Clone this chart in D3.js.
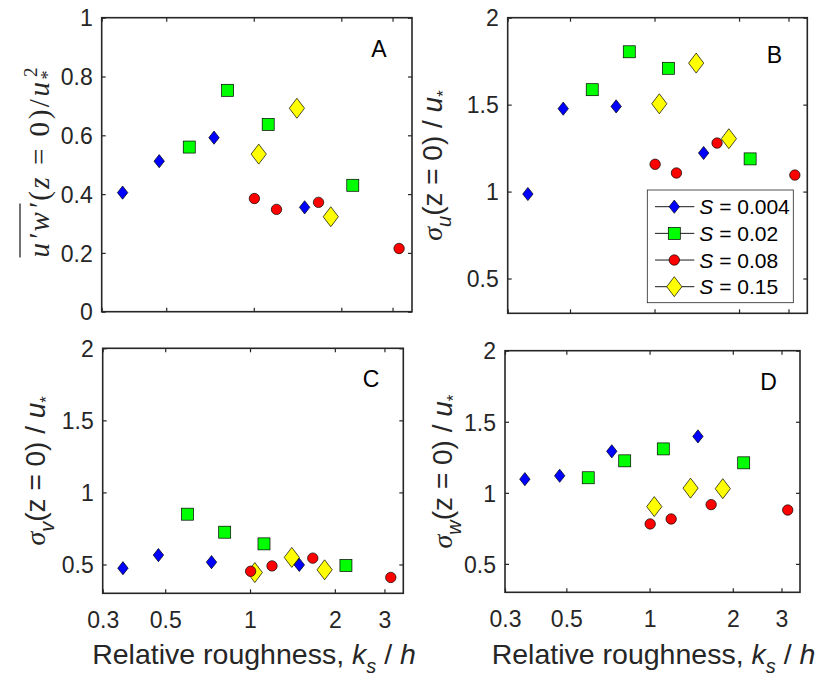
<!DOCTYPE html>
<html><head><meta charset="utf-8">
<script src="https://cdn.jsdelivr.net/npm/d3@7"></script>
<style>body{margin:0;background:#fff}svg{display:block}</style>
</head><body><svg id="chart" width="822" height="679"></svg>
<script>
// ---------- data ----------
const seriesNames = ["0.004", "0.02", "0.08", "0.15"];
const ksS004 = [0.354, 0.473, 0.730, 1.496];
const ksS02  = [0.600, 0.813, 1.121, 2.19];
const ksS08  = [1.005, 1.197, 1.67, 3.16];
const ksS15  = [1.04, 1.407, 1.84];

const uwS004 = [0.405, 0.512, 0.592, 0.355];
const uwS02  = [0.560, 0.753, 0.637, 0.430];
const uwS08  = [0.385, 0.348, 0.372, 0.215];
const uwS15  = [0.536, 0.692, 0.323];

const suS004 = [0.986, 1.477, 1.490, 1.222];
const suS02  = [1.586, 1.804, 1.709, 1.188];
const suS08  = [1.157, 1.107, 1.279, 1.095];
const suS15  = [1.505, 1.739, 1.304];

const svS004 = [0.474, 0.565, 0.516, 0.497];
const svS02  = [0.849, 0.724, 0.643, 0.493];
const svS08  = [0.453, 0.490, 0.544, 0.410];
const svS15  = [0.444, 0.549, 0.463];

const swS004 = [1.096, 1.120, 1.292, 1.397];
const swS02  = [1.106, 1.225, 1.309, 1.211];
const swS08  = [0.781, 0.816, 0.917, 0.879];
const swS15  = [0.903, 1.033, 1.029];

const xTicks = [0.3, 0.5, 1, 2, 3];
const xTickLabels = ["0.3", "0.5", "1", "2", "3"];
const yTicksA = [0, 0.2, 0.4, 0.6, 0.8, 1];
const yTickLabelsA = ["0", "0.2", "0.4", "0.6", "0.8", "1"];
const yTicksS = [0.5, 1, 1.5, 2];
const yTickLabelsS = ["0.5", "1", "1.5", "2"];

// ---------- style ----------
const INK = "#262626";
const styles = [
  {fill: "#0000ff", shape: "dsmall"},
  {fill: "#00ff00", shape: "square"},
  {fill: "#ff0000", shape: "circle"},
  {fill: "#ffff00", shape: "dbig"}
];
const drawOrder = [3, 0, 1, 2];

const svg = d3.select("#chart");
const TICKFONT = "Liberation Sans, Arial, sans-serif";

function marker(g, shape, fill, cx, cy) {
  if (shape === "circle") {
    g.append("circle").attr("cx", cx).attr("cy", cy).attr("r", 5.2)
      .attr("fill", fill).attr("stroke", "#000").attr("stroke-width", 0.7);
  } else if (shape === "square") {
    const s = 12;
    g.append("rect").attr("x", cx - s/2).attr("y", cy - s/2).attr("width", s).attr("height", s)
      .attr("fill", fill).attr("stroke", "#000").attr("stroke-width", 0.7);
  } else {
    const w = shape === "dbig" ? 7.6 : 5.2, h = shape === "dbig" ? 10 : 6.6;
    g.append("path").attr("d", `M${cx},${cy-h}L${cx+w},${cy}L${cx},${cy+h}L${cx-w},${cy}Z`)
      .attr("fill", fill).attr("stroke", "#000").attr("stroke-width", 0.7);
  }
}

function panel(opt) {
  const x = d3.scaleLog().domain([0.3, 3.5]).range([opt.x0, opt.x1]);
  const y = d3.scaleLinear().domain(opt.ydom).range([opt.y1, opt.y0]);
  const g = svg.append("g");
  const axB = d3.axisBottom(x).tickValues(xTicks).tickSizeInner(-4).tickSizeOuter(0)
    .tickFormat((d, i) => opt.xlabels ? xTickLabels[i] : "");
  const axT = d3.axisTop(x).tickValues(xTicks).tickSizeInner(-4).tickSizeOuter(0).tickFormat("");
  const axL = d3.axisLeft(y).tickValues(opt.yt).tickSizeInner(-4).tickSizeOuter(0)
    .tickFormat((d, i) => opt.ytl[i]);
  const axR = d3.axisRight(y).tickValues(opt.yt).tickSizeInner(-4).tickSizeOuter(0).tickFormat("");
  const gb = g.append("g").attr("transform", `translate(0,${opt.y1})`).call(axB);
  const gt = g.append("g").attr("transform", `translate(0,${opt.y0})`).call(axT);
  const gl = g.append("g").attr("transform", `translate(${opt.x0},0)`).call(axL);
  const gr = g.append("g").attr("transform", `translate(${opt.x1},0)`).call(axR);
  [gb, gt, gl, gr].forEach(a => {
    a.select(".domain").remove();
    a.selectAll(".tick line").attr("stroke", INK).attr("stroke-width", 1.2);
    a.selectAll("text").attr("fill", INK).style("font-family", TICKFONT).style("font-size", "23px");
  });
  gl.selectAll("text").attr("x", -9).attr("dy", "0.36em");
  gb.selectAll("text").attr("y", 0).attr("dy", 35);
  g.append("rect").attr("x", opt.x0).attr("y", opt.y0)
    .attr("width", opt.x1 - opt.x0).attr("height", opt.y1 - opt.y0)
    .attr("fill", "none").attr("stroke", INK).attr("stroke-width", 1.6);
  const mk = g.append("g");
  drawOrder.forEach(si => {
    const xs = opt.xs[si], ys = opt.ys[si];
    xs.forEach((v, i) => marker(mk, styles[si].shape, styles[si].fill, x(v), y(ys[i])));
  });
  g.append("text").attr("x", opt.lx).attr("y", opt.ly).attr("text-anchor", "middle")
    .attr("fill", "#000").style("font-family", TICKFONT).style("font-size", "23px").text(opt.letter);
  if (opt.xlabels) {
    const t = g.append("text").attr("x", (opt.x0 + opt.x1) / 2 + 1).attr("y", 664)
      .attr("text-anchor", "middle").attr("fill", INK)
      .style("font-family", TICKFONT).style("font-size", "28.5px");
    t.append("tspan").text("Relative roughness, ");
    t.append("tspan").style("font-style", "italic").text("k");
    t.append("tspan").style("font-style", "italic").style("font-size", "20px").attr("dy", 9).text("s");
    t.append("tspan").attr("dy", -9).text(" / ");
    t.append("tspan").style("font-style", "italic").text("h");
  }
  return {x, y, g};
}

const xsAll = [ksS004, ksS02, ksS08, ksS15];

panel({x0: 101.7, x1: 412, y0: 17.7, y1: 311.7, ydom: [0, 1], yt: yTicksA, ytl: yTickLabelsA,
  xs: xsAll, ys: [uwS004, uwS02, uwS08, uwS15], letter: "A", lx: 379, ly: 56.5, xlabels: false});
panel({x0: 507.7, x1: 807.3, y0: 17.7, y1: 313.3, ydom: [0.3, 2], yt: yTicksS, ytl: yTickLabelsS,
  xs: xsAll, ys: [suS004, suS02, suS08, suS15], letter: "B", lx: 774.5, ly: 62.5, xlabels: false});
panel({x0: 102.7, x1: 403.3, y0: 348.3, y1: 593.3, ydom: [0.3, 2], yt: yTicksS, ytl: yTickLabelsS,
  xs: xsAll, ys: [svS004, svS02, svS08, svS15], letter: "C", lx: 371, ly: 386.5, xlabels: true});
panel({x0: 505, x1: 800, y0: 350.7, y1: 592.3, ydom: [0.3, 2], yt: yTicksS, ytl: yTickLabelsS,
  xs: xsAll, ys: [swS004, swS02, swS08, swS15], letter: "D", lx: 768.5, ly: 390, xlabels: true});

// ---------- y labels ----------
function sigmaLabel(cx, cy, sub) {
  const g = svg.append("g").attr("transform", `translate(${cx},${cy}) rotate(-90)`);
  const t = g.append("text").attr("x", 0).attr("y", 0).attr("text-anchor", "middle").attr("fill", INK)
    .style("font-family", TICKFONT).style("font-size", "28px");
  t.append("tspan").style("font-family", "Liberation Serif, serif").style("font-style", "italic").text("σ");
  t.append("tspan").style("font-style", "italic").style("font-size", "20px").attr("dy", 9).text(sub);
  t.append("tspan").attr("dy", -9).text("(z = 0) / ");
  t.append("tspan").style("font-style", "italic").text("u");
  t.append("tspan").style("font-size", "17px").attr("dy", 7).text("*");
}
sigmaLabel(442, 165.5, "u");
sigmaLabel(45, 470.8, "v");
sigmaLabel(452, 471.5, "w");

// Panel A label (math style)
(function(){
  const g = svg.append("g").attr("transform", `translate(49,162.5) rotate(-90)`);
  const t = g.append("text").attr("x", 0).attr("y", 0).attr("text-anchor", "middle").attr("fill", INK)
    .attr("textLength", 190).attr("lengthAdjust", "spacing")
    .style("font-family", "Liberation Serif, serif").style("font-style", "italic").style("font-size", "29px");
  t.append("tspan").text("u′w′");
  t.append("tspan").style("font-style", "normal").text("(");
  t.append("tspan").text("z");
  t.append("tspan").style("font-style", "normal").text(" = 0)/");
  t.append("tspan").text("u");
  t.append("tspan").style("font-style", "normal").style("font-size", "18px").attr("dy", 5).text("*");
  t.append("tspan").style("font-style", "normal").style("font-size", "19px").attr("dx", -9).attr("dy", -17).text("2");
  const node = t.node();
  const sx = node.getStartPositionOfChar(0).x, ex = node.getEndPositionOfChar(3).x;
  g.append("line").attr("x1", sx).attr("x2", ex).attr("y1", -29).attr("y2", -29)
    .attr("stroke", INK).attr("stroke-width", 1.3);
})();

// ---------- legend ----------
(function(){
  const lg = svg.append("g");
  lg.append("rect").attr("x", 647.3).attr("y", 190).attr("width", 146).attr("height", 112.7)
    .attr("fill", "#fff").attr("stroke", INK).attr("stroke-width", 0.8);
  const rowY = d3.scalePoint().domain(d3.range(seriesNames.length)).range([206.7, 286.7]);
  seriesNames.forEach((nm, i) => {
    const yy = rowY(i);
    lg.append("line").attr("x1", 655).attr("x2", 694.3).attr("y1", yy).attr("y2", yy)
      .attr("stroke", "#000").attr("stroke-width", 0.9);
    marker(lg, styles[i].shape, styles[i].fill, 674.3, yy);
    const t = lg.append("text").attr("x", 699.3).attr("y", yy + 7.5).attr("fill", "#000")
      .style("font-family", TICKFONT).style("font-size", "21px");
    t.append("tspan").style("font-style", "italic").text("S");
    t.append("tspan").text(" = " + nm);
  });
})();
</script></body></html>
